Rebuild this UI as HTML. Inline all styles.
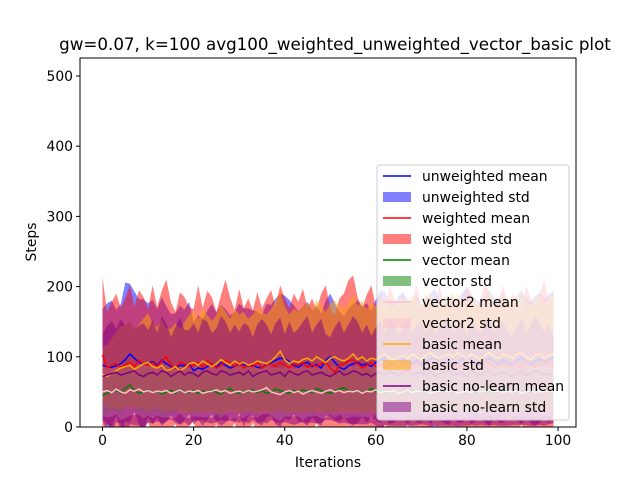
<!DOCTYPE html>
<html><head><meta charset="utf-8"><style>
body{margin:0;background:#fff}
svg{display:block;font-family:"DejaVu Sans","Liberation Sans",sans-serif}
</style></head><body>
<svg id="chart" width="640" height="480" viewBox="0 0 640 480" xmlns="http://www.w3.org/2000/svg">
<rect x="0" y="0" width="640" height="480" fill="#fff"/>
<text x="335" y="50" text-anchor="middle" font-size="16.7">gw=0.07, k=100 avg100_weighted_unweighted_vector_basic plot</text>
<defs><clipPath id="pc"><rect x="80" y="58" width="496" height="369"/></clipPath></defs>
<g id="plot" clip-path="url(#pc)"></g>
<rect x="80" y="58" width="496" height="369" fill="none" stroke="#000" stroke-width="1"/>
<g id="axes"></g>
<text x="328" y="467" text-anchor="middle" font-size="13.9">Iterations</text>
<text transform="translate(36,242) rotate(-90)" text-anchor="middle" font-size="13.9">Steps</text>
<g id="legend"></g>
</svg>
<script>
const iterations=[...Array(100).keys()];
const xTicks=[0,20,40,60,80,100];
const yTicks=[0,100,200,300,400,500];
const seriesNames=["unweighted","weighted","vector","vector2","basic","basic no-learn"];
const unweightedMean=[88,86,85,87,90,96,104,98,92,90,91,93,88,95,90,86,84,88,87,90,80,84,82,86,90,85,92,88,84,86,91,89,87,88,85,84,90,92,95,98,97,93,88,85,90,92,86,89,84,95,100,92,85,82,87,90,92,88,90,86,92,95,98,90,88,94,97,92,90,95,88,93,96,99,92,90,94,88,91,97,100,95,92,89,94,98,93,90,96,92,88,95,99,93,90,94,97,92,96,100];
const unweightedStd=[80,90,95,80,85,110,100,95,90,92,85,88,80,90,82,75,78,85,80,88,70,75,72,80,85,78,82,80,75,78,85,80,82,78,80,76,85,82,88,92,90,88,85,80,82,86,80,84,78,85,90,84,80,76,82,85,88,84,86,80,90,100,95,88,86,92,95,90,88,92,84,90,95,98,90,88,92,86,90,95,98,92,90,86,92,96,90,88,94,90,85,92,96,90,88,92,94,90,92,95];
const weightedMean=[103,84,88,90,85,88,92,86,95,90,88,92,86,94,100,88,84,92,90,86,88,92,85,94,90,84,88,95,90,86,92,84,88,86,92,84,88,90,86,92,88,84,90,88,92,85,88,86,90,92,84,78,88,90,94,96,90,84,88,92,86,90,84,92,88,86,90,84,88,92,86,90,88,84,92,86,88,90,84,88,92,90,86,88,94,90,84,88,92,86,90,88,84,92,88,86,90,94,88,92];
const weightedStd=[110,80,90,100,85,95,110,85,100,95,80,110,85,100,110,90,80,100,95,85,80,110,85,100,95,80,100,115,95,80,105,85,95,80,100,85,95,105,85,110,95,85,100,90,105,85,95,80,100,110,85,80,95,100,115,120,95,85,100,110,85,100,80,110,95,85,100,80,95,110,85,100,90,80,110,85,95,100,85,95,110,100,85,95,115,100,85,95,110,85,100,95,80,110,95,85,100,115,90,100];
const vectorMean=[45,48,50,52,49,55,60,52,48,50,53,49,51,47,50,52,48,54,50,49,52,48,51,50,53,49,47,52,55,50,48,51,50,53,49,52,48,50,54,52,50,48,52,50,53,51,49,55,52,50,48,51,54,56,52,50,53,49,51,55,50,52,48,54,50,49,52,53,51,50,48,52,50,53,49,55,51,50,48,52,54,50,49,51,53,50,48,52,54,51,50,53,49,52,50,54,51,50,52,49];
const vectorStd=[30,28,26,30,32,28,30,26,28,30,32,28,26,30,32,28,30,26,28,30,32,28,30,26,28,30,32,28,30,26,28,30,28,30,32,28,26,30,28,30,32,28,26,30,28,30,32,28,26,30,28,30,32,28,30,26,28,30,32,28,30,26,28,30,32,28,30,26,28,30,32,28,30,26,28,30,32,28,30,26,28,30,32,28,30,26,28,30,32,28,30,26,28,30,32,28,30,26,28,30];
const vector2Mean=[50,52,49,54,50,48,53,51,54,50,52,49,51,50,52,48,50,53,49,51,50,52,48,50,51,53,50,52,48,50,51,49,52,50,51,53,56,50,48,46,50,52,49,51,47,50,52,50,48,51,53,50,52,49,51,50,52,48,51,50,53,49,51,50,52,48,50,53,49,51,50,52,48,50,51,53,50,52,48,50,51,49,52,50,51,53,50,52,49,51,50,52,48,50,53,49,51,50,52,50];
const vector2Std=[35,38,34,36,40,35,37,34,36,38,35,37,34,36,38,35,37,34,36,38,35,37,34,36,38,35,37,34,36,38,35,37,34,36,38,35,37,34,36,38,35,37,34,36,38,35,37,34,36,38,35,37,34,36,38,35,37,34,36,38,35,37,34,36,38,35,37,34,36,38,35,37,34,36,38,35,37,34,36,38,35,37,34,36,38,35,37,34,36,38,35,37,34,36,38,35,37,34,36,38];
const basicMean=[75,72,76,80,84,86,88,82,86,90,92,86,84,88,80,82,86,80,84,90,92,88,94,90,86,90,96,92,88,94,90,92,88,90,94,92,90,94,100,108,96,90,94,92,96,98,94,100,96,92,98,100,96,94,98,104,96,100,94,98,96,100,104,98,96,100,102,98,104,100,96,102,106,100,98,102,104,100,106,102,98,104,100,96,102,106,100,98,104,102,98,104,106,100,96,102,104,98,102,104];
const basicStd=[40,45,50,55,60,58,62,55,60,65,70,62,58,65,60,58,62,60,65,70,72,66,75,70,65,70,78,72,66,75,70,72,66,70,75,72,70,74,80,85,76,70,75,72,76,78,74,80,76,72,78,80,76,74,78,84,76,80,74,78,76,80,84,78,76,80,82,78,84,80,76,82,86,80,78,82,84,80,86,82,78,84,80,76,82,86,80,78,84,82,78,84,86,80,76,82,84,78,82,84];
const nolearnMean=[72,74,76,78,74,76,78,80,74,72,76,78,74,80,78,72,76,80,74,78,76,72,78,80,76,74,80,78,74,76,78,74,80,72,76,78,80,74,76,78,72,80,76,74,78,80,74,76,78,74,72,76,80,74,76,80,78,74,76,72,76,78,74,80,76,72,78,80,74,76,78,74,80,72,76,78,80,74,76,78,72,80,76,74,78,80,74,76,78,74,72,76,80,74,76,80,78,74,76,72];
const nolearnStd=[60,70,75,62,80,68,72,58,70,76,62,74,60,78,70,56,66,76,64,60,72,62,76,70,58,66,78,72,60,70,58,74,64,56,70,76,66,58,72,78,60,70,58,66,72,78,60,70,76,58,56,66,72,60,70,78,72,60,70,58,66,72,60,76,70,58,66,76,60,70,72,60,76,58,66,72,78,60,70,72,58,76,66,60,72,78,60,70,72,60,58,66,76,60,70,78,72,60,70,58];
const means=[unweightedMean,weightedMean,vectorMean,vector2Mean,basicMean,nolearnMean];
const stds=[unweightedStd,weightedStd,vectorStd,vector2Std,basicStd,nolearnStd];
const colors=["#0000ff","#ff0000","#008000","#ffc0cb","#ffa500","#800080"];
const X0=80,X1=576,Y0=427,Y1=58,xmin=-4.95,xmax=103.95,ymin=0,ymax=525.6;
const sx=v=>X0+(v-xmin)/(xmax-xmin)*(X1-X0);
const sy=v=>Y0-(v-ymin)/(ymax-ymin)*(Y0-Y1);
const NS="http://www.w3.org/2000/svg";
function mk(t,a,p){const e=document.createElementNS(NS,t);for(const k in a)e.setAttribute(k,a[k]);p.appendChild(e);return e;}
const plot=document.getElementById('plot');
means.forEach((m,s)=>{
  const sd=stds[s];
  let up=iterations.map(i=>sx(i).toFixed(1)+','+sy(m[i]+sd[i]).toFixed(1));
  let lo=iterations.slice().reverse().map(i=>sx(i).toFixed(1)+','+sy(m[i]-sd[i]).toFixed(1));
  const band=mk('polygon',{points:up.concat(lo).join(' '),fill:colors[s],'fill-opacity':0.5},plot);
  
  
});
means.forEach((m,s)=>{
  const ln=mk('polyline',{points:iterations.map(i=>sx(i).toFixed(1)+','+sy(m[i]).toFixed(1)).join(' '),fill:'none',stroke:colors[s],'stroke-width':1.5},plot);
  
  
});
const axes=document.getElementById('axes');
xTicks.forEach(t=>{
  mk('line',{x1:sx(t),x2:sx(t),y1:Y0,y2:Y0+4,stroke:'#000'},axes);
  const tx=mk('text',{x:sx(t),y:Y0+18,'text-anchor':'middle','font-size':13.9},axes);tx.textContent=t;
  
  
});
yTicks.forEach(t=>{
  mk('line',{x1:X0-4,x2:X0,y1:sy(t),y2:sy(t),stroke:'#000'},axes);
  const tx=mk('text',{x:X0-7,y:sy(t)+5,'text-anchor':'end','font-size':13.9},axes);tx.textContent=t;
  
  
});
const lg=document.getElementById('legend');


mk('rect',{x:377,y:165,width:192,height:255,rx:3,fill:'#fff','fill-opacity':0.8,stroke:'#ccc'},lg);
seriesNames.forEach((n,s)=>{
  const y1=176+s*42, y2=y1+21;
  mk('line',{x1:383,x2:411,y1:y1,y2:y1,stroke:colors[s],'stroke-width':1.5},lg);
  const t1=mk('text',{x:422,y:y1+5,'font-size':13.9},lg);t1.textContent=n+' mean';
  
  
  mk('rect',{x:383,y:y2-5,width:28,height:10,fill:colors[s],'fill-opacity':0.5},lg);
  const t2=mk('text',{x:422,y:y2+5,'font-size':13.9},lg);t2.textContent=n+' std';
  
  
});
</script>
</body></html>
